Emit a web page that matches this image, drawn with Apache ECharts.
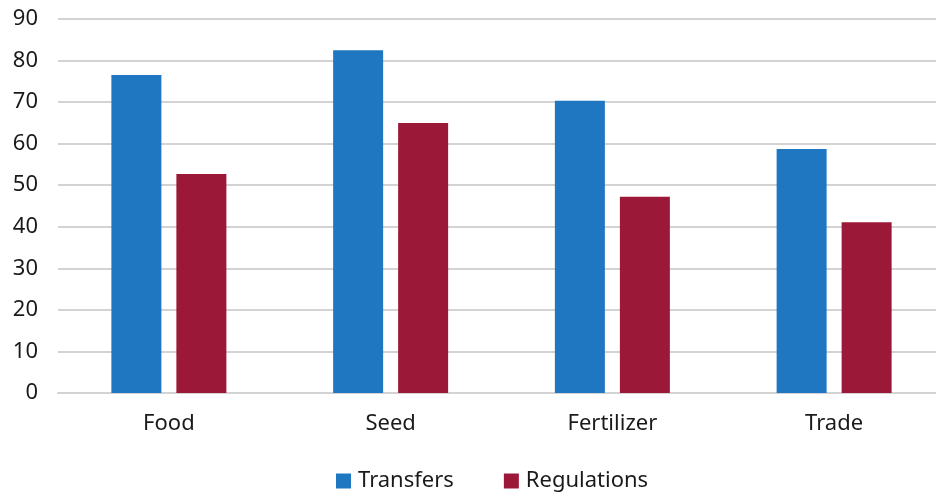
<!DOCTYPE html>
<html>
<head>
<meta charset="utf-8">
<script src="https://cdn.jsdelivr.net/npm/echarts@6/dist/echarts.min.js"></script>
<style>
  html, body { margin: 0; padding: 0; background: #fff; }
  #chart { width: 936px; height: 495px; }
</style>
</head>
<body>
<div id="chart"></div>
<script>
// Policy categories and the share for each instrument type
const categories = ['Food', 'Seed', 'Fertilizer', 'Trade'];
const transfers = [76.5, 82.5, 70.3, 58.7];
const regulations = [52.7, 65.0, 47.2, 41.1];
const yTicks = { min: 0, max: 90, interval: 10 };

const FONT = '"Noto Sans", sans-serif';
const TEXT = '#1a1a1a';
const GRID = '#d3d3d3';

const chart = echarts.init(document.getElementById('chart'), null, { renderer: 'canvas' });
chart.setOption({
  animation: false,
  backgroundColor: '#ffffff',
  // plot area runs slightly past the right edge of the canvas
  grid: {
    left: 58, width: 887, top: 19, height: 374,
    containLabel: false,
    outerBoundsMode: 'none'
  },
  legend: {
    top: 465,
    left: 331,
    itemWidth: 15,
    itemHeight: 15,
    itemGap: 50,
    icon: 'rect',
    textStyle: { fontFamily: FONT, fontSize: 22, color: TEXT, padding: [0, 0, 0, 2] },
    data: ['Transfers', 'Regulations']
  },
  xAxis: {
    type: 'category',
    data: categories,
    axisLine: { show: true, lineStyle: { color: GRID, width: 2 } },
    axisTick: { show: false },
    axisLabel: { fontFamily: FONT, fontSize: 22, color: TEXT, margin: 20 }
  },
  yAxis: {
    type: 'value',
    min: yTicks.min,
    max: yTicks.max,
    interval: yTicks.interval,
    axisLine: { show: false },
    axisTick: { show: false },
    splitLine: { lineStyle: { color: GRID, width: 2 } },
    axisLabel: { fontFamily: FONT, fontSize: 22, color: TEXT, margin: 20 }
  },
  series: [
    {
      name: 'Transfers',
      type: 'bar',
      data: transfers,
      barWidth: 50,
      barGap: '30%',
      itemStyle: { color: '#1f77c1' }
    },
    {
      name: 'Regulations',
      type: 'bar',
      data: regulations,
      barWidth: 50,
      itemStyle: { color: '#9c1839' }
    }
  ]
});
</script>
</body>
</html>
